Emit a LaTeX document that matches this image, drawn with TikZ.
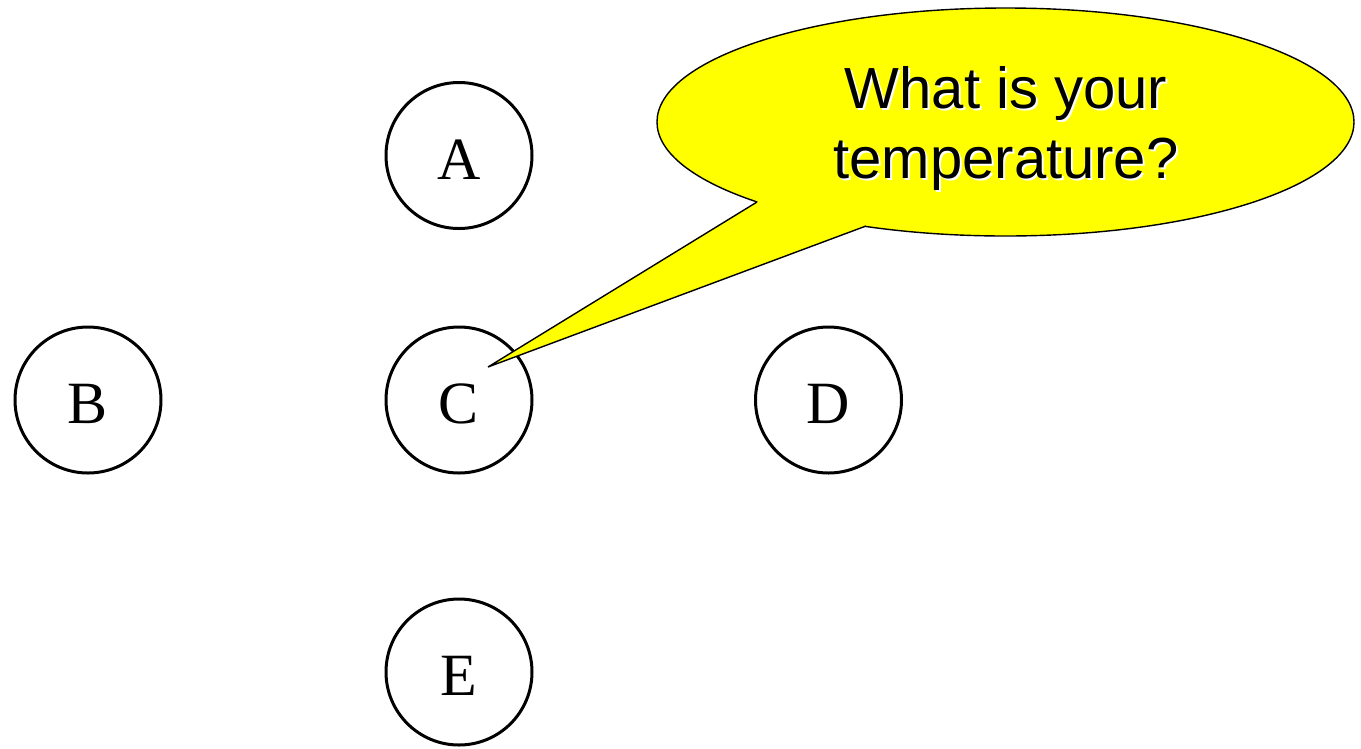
\documentclass[tikz,border=0pt]{standalone}
\usepackage{fontspec}
\setmainfont{Liberation Serif}
\newfontfamily\calloutfont{Liberation Sans}
\usetikzlibrary{shapes.geometric,calc}
\definecolor{bubbleyellow}{RGB}{255,255,0}
\begin{document}
\begin{tikzpicture}[x=1pt,y=-1pt,
  station/.style={circle,draw,line width=3pt,minimum size=146pt,inner sep=0pt,
    font=\fontsize{60}{60}\selectfont},
  bubble/.style={ellipse,fill=bubbleyellow,draw=black,line width=1.4pt,minimum width=697pt,minimum height=228pt,inner sep=0pt},
  calltext/.style={font=\calloutfont\fontsize{58}{70}\selectfont,align=center}]
\useasboundingbox (0,0) rectangle (1361,748);
\node[station] (A) at (459,155.5) {\raisebox{-4pt}[\height][0pt]{A}};
\node[station] (B) at (88,400) {\raisebox{-4pt}[\height][0pt]{B}};
\node[station] (C) at (459,400) {\raisebox{-4pt}[\height][0pt]{C}};
\node[station] (D) at (828.5,400) {\raisebox{-4pt}[\height][0pt]{D}};
\node[station] (E) at (459,672) {\raisebox{-4pt}[\height][0pt]{E}};
% callout bubble
\node[bubble] (bub) at (1005.5,122) {};
\coordinate (tip) at (488,367);
\coordinate (b1) at (757,202);
\coordinate (b2) at (866,226);
\fill[bubbleyellow] (b1) -- (tip) -- (b2) -- ($(b2)+(0,-6)$) -- ($(b1)+(4,-4)$) -- cycle;
\draw[line width=1.4pt,line join=miter] (b1) -- (tip) -- (b2);
\node[calltext,text=white] (shadow) at (1008,130) {What is your\\temperature?};
\node[calltext,text=black] (txt) at (1006,128) {What is your\\temperature?};
\end{tikzpicture}
\end{document}
